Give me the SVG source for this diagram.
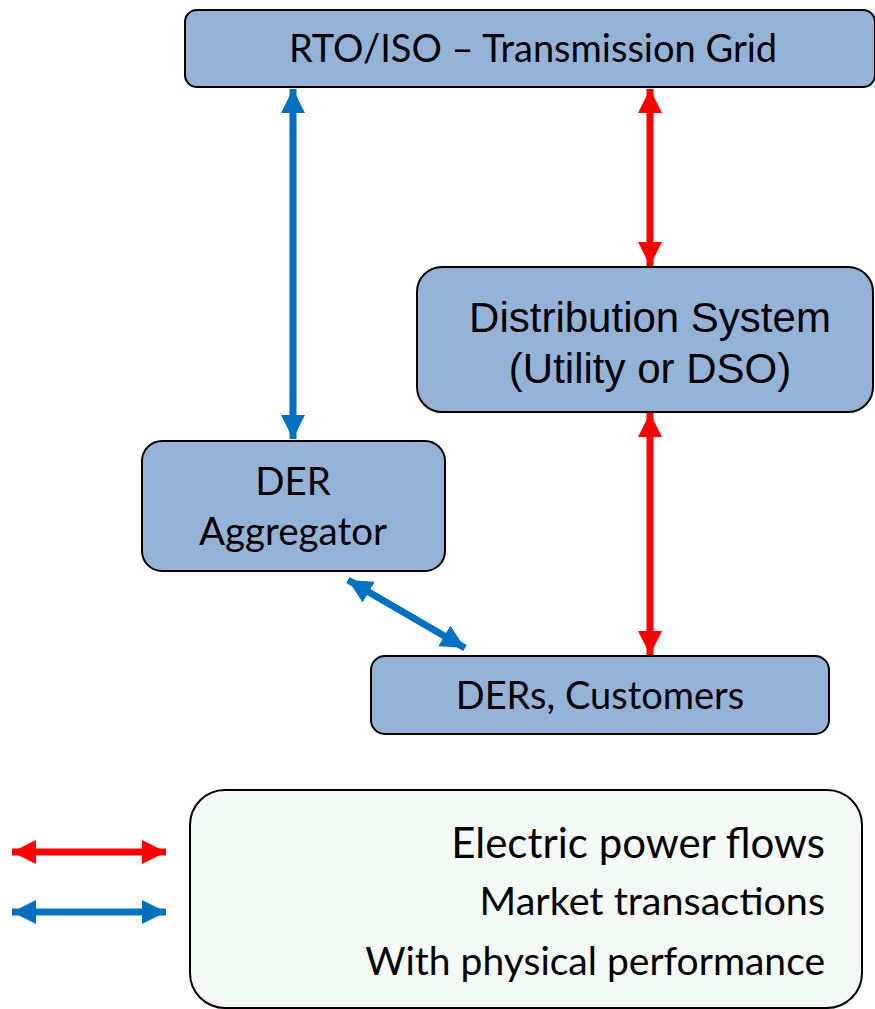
<svg xmlns="http://www.w3.org/2000/svg" width="875" height="1009" viewBox="0 0 875 1009">
  <style>
    .box { fill: #95b3d7; stroke: #000; stroke-width: 2; }
    .legend { fill: #f3f9f5; stroke: #000; stroke-width: 2; }
    .cal { font-family: Lato, "Open Sans", "Liberation Sans", sans-serif; fill: #000; }
    .ari { font-family: "Liberation Sans", Arial, sans-serif; fill: #000; }
    .blue { stroke: #0070c0; stroke-width: 7; fill: none; }
    .red { stroke: #ff0000; stroke-width: 7; fill: none; }
  </style>
  <defs>
    <marker id="hb" viewBox="0 0 10 10" refX="10" refY="5" markerWidth="24" markerHeight="24" markerUnits="userSpaceOnUse" orient="auto-start-reverse">
      <path d="M0,0 L10,5 L0,10 Z" fill="#0070c0"/>
    </marker>
    <marker id="hr" viewBox="0 0 10 10" refX="10" refY="5" markerWidth="24" markerHeight="24" markerUnits="userSpaceOnUse" orient="auto-start-reverse">
      <path d="M0,0 L10,5 L0,10 Z" fill="#ff0000"/>
    </marker>
  </defs>

  <g id="connectors">
    <line class="blue" x1="293" y1="89" x2="293" y2="439" marker-start="url(#hb)" marker-end="url(#hb)"/>
    <line class="red" x1="650" y1="89" x2="650" y2="266" marker-start="url(#hr)" marker-end="url(#hr)"/>
    <line class="red" x1="650" y1="413" x2="650" y2="655" marker-start="url(#hr)" marker-end="url(#hr)"/>
    <line class="blue" x1="348" y1="580" x2="465" y2="648" marker-start="url(#hb)" marker-end="url(#hb)"/>
  </g>

  <g id="rto">
    <rect class="box" x="185" y="10" width="690" height="77" rx="12"/>
    <text class="cal" x="533" y="62" font-size="38" text-anchor="middle">RTO/ISO – Transmission Grid</text>
  </g>

  <g id="distribution">
    <rect class="box" x="417" y="267" width="456" height="145" rx="25"/>
    <text class="ari" x="650" y="332" font-size="42" text-anchor="middle">Distribution System</text>
    <text class="ari" x="650" y="383" font-size="42" text-anchor="middle">(Utility or DSO)</text>
  </g>

  <g id="aggregator">
    <rect class="box" x="142" y="441" width="303" height="130" rx="20"/>
    <text class="cal" x="293" y="495" font-size="38.5" text-anchor="middle">DER</text>
    <text class="cal" x="293" y="545" font-size="38.5" text-anchor="middle">Aggregator</text>
  </g>

  <g id="customers">
    <rect class="box" x="371" y="656" width="458" height="78" rx="14"/>
    <text class="cal" x="600" y="709" font-size="38" text-anchor="middle">DERs, Customers</text>
  </g>

  <g id="legend">
    <rect class="legend" x="190" y="790" width="672" height="218" rx="35"/>
    <line class="red" x1="12" y1="852" x2="166" y2="852" marker-start="url(#hr)" marker-end="url(#hr)"/>
    <line class="blue" x1="12" y1="912" x2="166" y2="912" marker-start="url(#hb)" marker-end="url(#hb)"/>
    <text class="cal" x="825" y="858" font-size="42" text-anchor="end">Electric power flows</text>
    <text class="cal" x="825" y="915" font-size="39.5" text-anchor="end">Market transactions</text>
    <text class="cal" x="825" y="975" font-size="39" text-anchor="end">With physical performance</text>
  </g>
</svg>
